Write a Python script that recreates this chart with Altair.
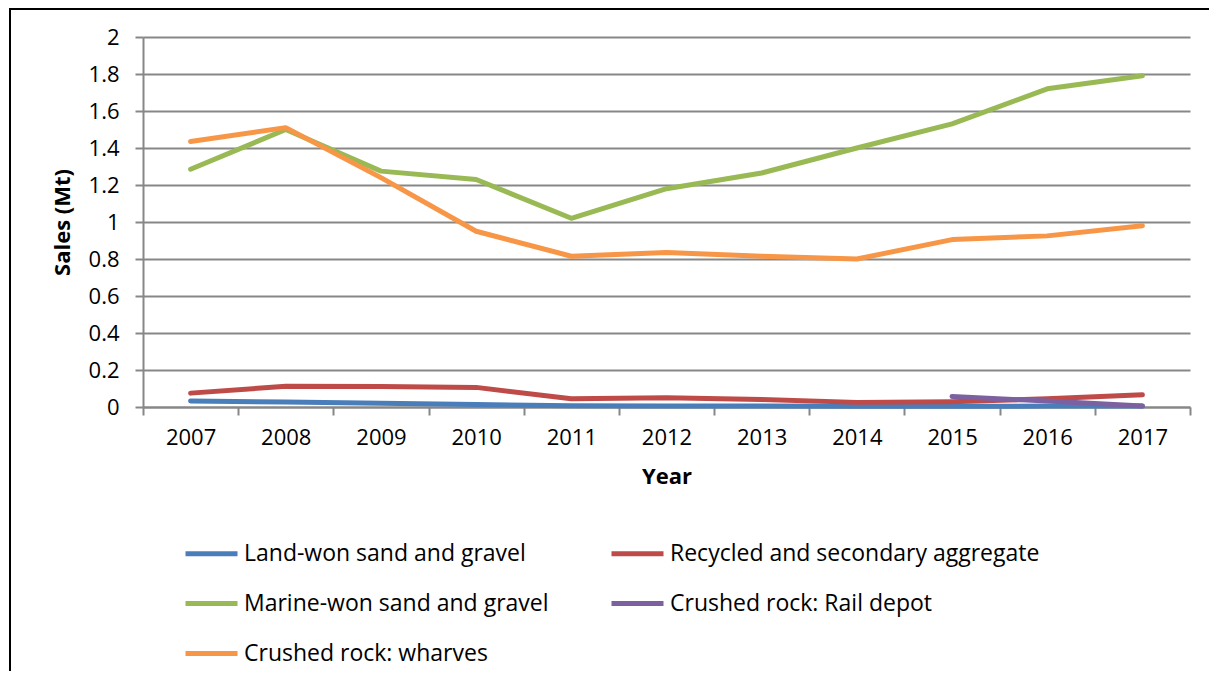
import altair as alt
import pandas as pd

years = ["2007", "2008", "2009", "2010", "2011", "2012", "2013", "2014", "2015", "2016", "2017"]
series_names = [
    "Land-won sand and gravel",
    "Recycled and secondary aggregate",
    "Marine-won sand and gravel",
    "Crushed rock: Rail depot",
    "Crushed rock: wharves",
]
colors = ["#4A7EBB", "#BE4B48", "#98B954", "#7D60A0", "#F79646"]

land_won = [0.033, 0.027, 0.020, 0.013, 0.007, 0.005, 0.005, 0.004, 0.004, 0.005, 0.005]
recycled = [0.075, 0.112, 0.111, 0.106, 0.045, 0.050, 0.040, 0.025, 0.029, 0.044, 0.066]
marine = [1.285, 1.50, 1.275, 1.23, 1.02, 1.18, 1.265, 1.40, 1.53, 1.72, 1.79]
rail_depot = [None, None, None, None, None, None, None, None, 0.057, 0.032, 0.005]
wharves = [1.435, 1.51, 1.24, 0.95, 0.815, 0.835, 0.815, 0.80, 0.905, 0.925, 0.98]

all_values = [land_won, recycled, marine, rail_depot, wharves]

rows = []
for name, vals in zip(series_names, all_values):
    for y, v in zip(years, vals):
        if v is not None:
            rows.append({"Year": y, "Series": name, "Sales": v})
df = pd.DataFrame(rows)

FONT = "Open Sans"
GRID = "#878787"

lines = alt.Chart(df).mark_line(strokeWidth=5, strokeCap="round", strokeJoin="round").encode(
    x=alt.X(
        "Year:O",
        sort=years,
        bandPosition=0.5,
        scale=alt.Scale(type="band", paddingInner=0, paddingOuter=0),
        axis=alt.Axis(
            title="Year",
            labelAngle=0,
            tickBand="extent",
            tickSize=8,
            tickWidth=2,
            tickColor=GRID,
            domainColor=GRID,
            domainWidth=2,
            labelPadding=12,
            titlePadding=18,
            grid=False,
        ),
    ),
    y=alt.Y(
        "Sales:Q",
        scale=alt.Scale(domain=[0, 2], nice=False),
        axis=alt.Axis(
            title="Sales (Mt)",
            values=[0, 0.2, 0.4, 0.6, 0.8, 1, 1.2, 1.4, 1.6, 1.8, 2],
            format="~g",
            tickSize=8,
            tickWidth=2,
            tickColor=GRID,
            domainColor=GRID,
            domainWidth=2,
            gridColor=GRID,
            gridWidth=2,
            labelPadding=16,
            titlePadding=14,
        ),
    ),
    color=alt.Color(
        "Series:N",
        scale=alt.Scale(domain=series_names, range=colors),
        legend=alt.Legend(
            title=None,
            orient="none",
            direction="horizontal",
            legendX=40,
            legendY=488,
            columns=2,
            symbolType="stroke",
            symbolSize=2704,
            symbolStrokeWidth=5,
            labelFontSize=23,
            labelFont=FONT,
            labelColor="black",
            labelOffset=4,
            labelLimit=500,
            columnPadding=52,
            rowPadding=9,
            padding=0,
        ),
    ),
)

frame = alt.Chart(alt.Data(values=[{}])).mark_rect(
    fill="transparent", stroke="black", strokeWidth=2
).encode(
    x=alt.value(-133),
    x2=alt.value(1200),
    y=alt.value(-28),
    y2=alt.value(700),
)

chart = alt.layer(frame, lines).properties(
    width=1047,
    height=370,
    padding={"left": 135, "top": 29, "right": 19, "bottom": 264},
    autosize=alt.AutoSizeParams(type="none"),
).configure_view(
    stroke=None
).configure_axis(
    labelFont=FONT,
    titleFont=FONT,
    labelFontSize=22,
    titleFontSize=22,
    labelColor="black",
    titleColor="black",
    titleFontWeight="bold",
)

chart.save("out.html", embed_options={"renderer": "svg", "actions": False})
